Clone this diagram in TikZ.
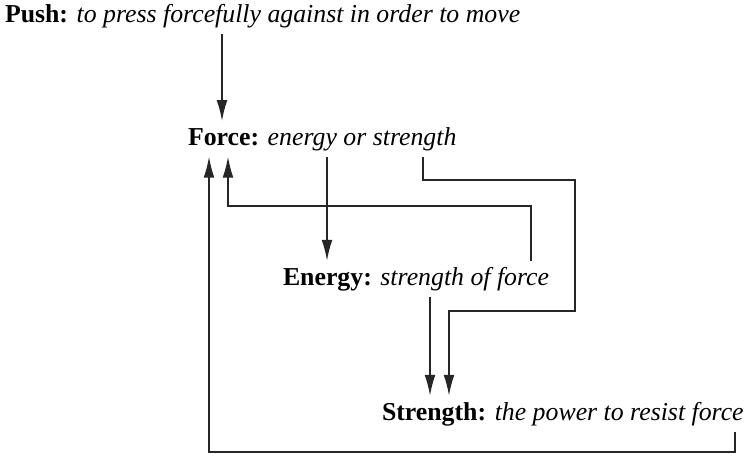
\documentclass[tikz,border=0pt]{standalone}
\usepackage{fontspec}
\setmainfont{Liberation Serif}[ItalicFont={Liberation Serif Italic},BoldFont={Liberation Serif Bold}]
\usetikzlibrary{arrows.meta,calc}
\tikzset{
  term/.style={anchor=base west,inner sep=0pt,outer xsep=0pt,outer ysep=3pt,
               font=\fontsize{12.9}{15}\selectfont},
  link/.style={line width=0.8pt,black!85},
  arr/.style={link,-{Latex[length=10.5pt,width=5.4pt]}}
}
\begin{document}
\begin{tikzpicture}[x=0.5pt,y=-0.5pt]
  \useasboundingbox (0,0) rectangle (747,455);
  % the four terms
  \node[term] (push) at (5,22) {\textbf{Push:} \textit{to press forcefully against in order to move}};
  \node[term] (force) at (188,145) {\textbf{Force:} \textit{energy or strength}};
  \node[term] (energy) at (283,285) {\textbf{Energy:} \textit{strength of force}};
  \node[term] (strength) at (382,420) {\textbf{Strength:} \textit{the power to resist force}};
  % links between them
  \draw[arr] (push.south -| 222,0) -- (force.north -| 222,0);
  \draw[arr] (force.south -| 327,0) -- (energy.north -| 327,0);
  \draw[arr] (force.south -| 423,0) |- (575,180) |- (449,311) -- (strength.north -| 449,0);
  \draw[arr] (energy.south -| 430,0) -- (strength.north -| 430,0);
  \draw[arr] (energy.north -| 531,0) |- (228,206) -- (force.south -| 228,0);
  \draw[arr] (strength.south -| 735,0) |- (209,452) -- (force.south -| 209,0);
\end{tikzpicture}
\end{document}
